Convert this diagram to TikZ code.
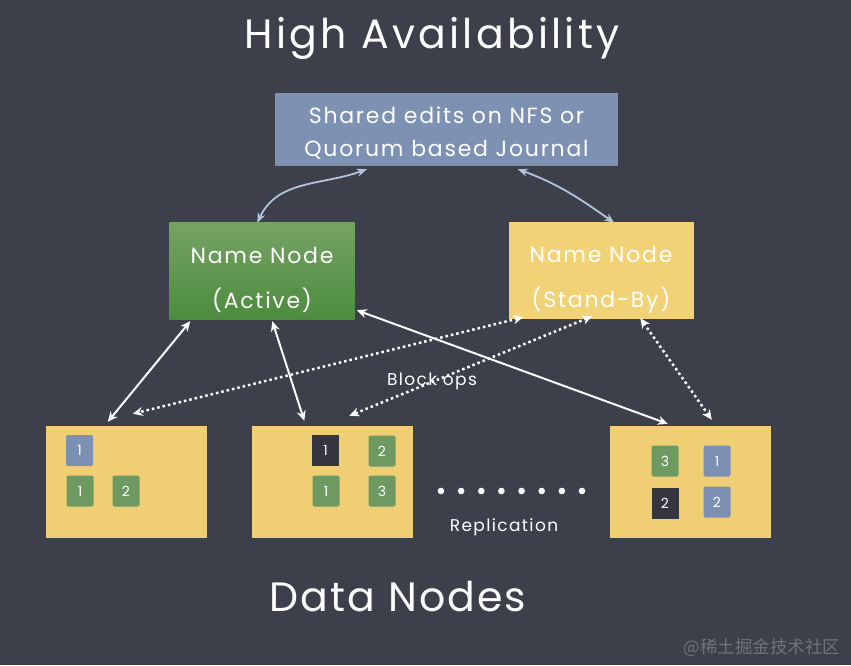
\documentclass[tikz,border=0pt]{standalone}
\usepackage{fontspec}
\setmainfont{Poppins}
\newfontfamily\chalk[LetterSpace=8]{Poppins}
\newfontfamily\chalkwide[LetterSpace=5]{Poppins}
\newfontfamily\cjkfont{Noto Sans CJK SC}
\usetikzlibrary{arrows.meta,calc}
\definecolor{board}{HTML}{3D404B}
\definecolor{topblue}{HTML}{7D91B3}
\definecolor{linkblue}{HTML}{B4C3DC}
\definecolor{nngreenT}{HTML}{76A364}
\definecolor{nngreenB}{HTML}{4C8C3E}
\definecolor{nnyellow}{HTML}{F2D277}
\definecolor{dnyellow}{HTML}{F0CF74}
\definecolor{sqblue}{HTML}{7B90B2}
\definecolor{sqgreen}{HTML}{6E9A62}
\definecolor{sqdark}{HTML}{34353F}
\definecolor{wmark}{HTML}{70737E}
\begin{document}
\begin{tikzpicture}[x=1pt,y=-1pt,
  every node/.style={inner sep=0pt},
  bigtext/.style={text=white,font=\chalk\fontsize{41}{43}\selectfont},
  boxtext/.style={text=white,align=center},
  topbox/.style={fill=topblue,minimum width=343pt,minimum height=73pt},
  nnbox/.style={minimum width=185pt,minimum height=97pt},
  dnbox/.style={fill=dnyellow,minimum width=161pt,minimum height=112pt},
  blk/.style={minimum width=27pt,minimum height=31pt,text=white,font=\fontsize{14}{14}\selectfont,rounded corners=2pt},
  label/.style={text=white,font=\chalk\fontsize{17}{17}\selectfont},
  solidlink/.style={draw=white,line width=2pt,{Stealth[length=10pt,width=9pt]}-{Stealth[length=10pt,width=9pt]}},
  dotlink/.style={draw=white,line width=2.5pt,dash pattern=on 2.5pt off 3pt,{Stealth[length=10pt,width=9pt]}-{Stealth[length=10pt,width=9pt]}},
  journallink/.style={draw=linkblue,line width=1.8pt,{Stealth[length=10pt,width=8pt]}-{Stealth[length=10pt,width=8pt]}}
]
\useasboundingbox (0,0) rectangle (851,665);
\fill[board] (0,0) rectangle (851,665);

% titles
\node[bigtext] (title) at (432,38) {High Availability};
\node[bigtext,font=\chalkwide\fontsize{41}{43}\selectfont] (dntitle) at (398,597) {Data Nodes};

% journal
\node[topbox] (shared) at (446.5,129.5) {};
\node[boxtext,font=\chalk\fontsize{22}{33}\selectfont] (sharedtxt) at ([yshift=-4pt]shared.center) {Shared edits on NFS or\\Quorum based Journal};

% name nodes
\node[nnbox,top color=nngreenT,bottom color=nngreenB] (nnA) at (262,270.5) {};
\node[boxtext,font=\chalk\fontsize{22}{45}\selectfont] (nnAtxt) at ([yshift=-9pt]nnA.center) {Name Node\\(Active)};
\node[nnbox,fill=nnyellow] (nnS) at (601,270.5) {};
\node[boxtext,font=\chalk\fontsize{22}{45}\selectfont] (nnStxt) at ([yshift=-9pt]nnS.center) {Name Node\\(Stand-By)};

% data nodes
\node[dnbox] (dn1) at (126.5,482) {};
\node[dnbox] (dn2) at (332,482) {};
\node[dnbox] (dn3) at (690.5,482) {};

% blocks
\node[blk,fill=sqblue] (b1a) at (79.5,450.5) {1};
\node[blk,fill=sqgreen] (b1b) at (80,491) {1};
\node[blk,fill=sqgreen] (b1c) at (126,491) {2};
\node[blk,fill=sqdark,rounded corners=0pt] (b2a) at (325.5,450.5) {1};
\node[blk,fill=sqgreen] (b2b) at (382,451) {2};
\node[blk,fill=sqgreen] (b2c) at (326,491) {1};
\node[blk,fill=sqgreen] (b2d) at (382,491) {3};
\node[blk,fill=sqgreen] (b3a) at (665,461) {3};
\node[blk,fill=sqblue] (b3b) at (717,461) {1};
\node[blk,fill=sqdark,rounded corners=0pt] (b3c) at (665,503) {2};
\node[blk,fill=sqblue] (b3d) at (717,502) {2};

% labels
\node[label] (blockops) at (432,381) {Block ops};
\node[label] (repl) at (504,527) {Replication};
\foreach \i in {0,...,7} \fill[white] (441+\i*20.14,491) circle (3.3pt);

% journal links
\draw[journallink] ([xshift=88pt,yshift=-1pt]nnA.north west) to[out=65,in=200] ([xshift=92pt,yshift=-3pt]shared.south west);
\draw[journallink] ([xshift=243pt,yshift=-3pt]shared.south west) to[out=-20,in=145] ([xshift=106pt,yshift=-1pt]nnS.north west);

% active links
\draw[solidlink] ([xshift=21pt,yshift=-2pt]nnA.south west) -- ([xshift=62pt,yshift=4pt]dn1.north west);
\draw[solidlink] ([xshift=103pt,yshift=-2pt]nnA.south west) -- ([xshift=53pt,yshift=5pt]dn2.north west);
\draw[solidlink] ([xshift=2pt,yshift=9pt]nnA.south east) -- ([xshift=58pt,yshift=2pt]dn3.north west);

% standby links
\draw[dotlink] ([xshift=15pt,yshift=2pt]nnS.south west) -- ([xshift=87pt,yshift=12pt]dn1.north west);
\draw[dotlink] ([xshift=84pt,yshift=3pt]nnS.south west) -- ([xshift=98pt,yshift=10pt]dn2.north west);
\draw[dotlink] ([xshift=132pt,yshift=1pt]nnS.south west) -- ([xshift=102pt,yshift=6pt]dn3.north west);

% watermark
\node[text=wmark,font=\cjkfont\fontsize{17.5}{18}\selectfont] (wm) at (762,648) {@稀土掘金技术社区};
\end{tikzpicture}
\end{document}
